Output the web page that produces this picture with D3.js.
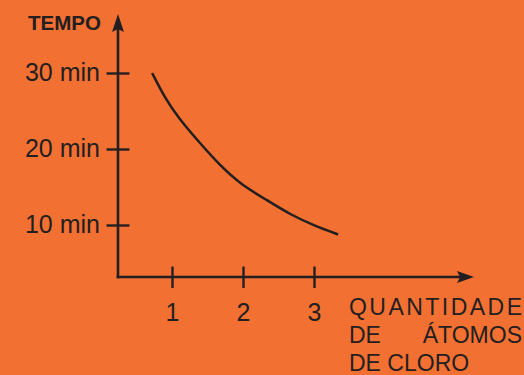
<!DOCTYPE html>
<html>
<head>
<meta charset="utf-8">
<script src="https://cdn.jsdelivr.net/npm/d3@7"></script>
<style>
html,body{margin:0;padding:0;background:#F37033;}
svg{display:block;}
text{font-family:"Liberation Sans",Arial,Helvetica,sans-serif;fill:#231F20;}
</style>
</head>
<body>
<svg id="chart" width="524" height="375"></svg>
<script>
// Data
const xTicks = [1, 2, 3];
const yTicks = [10, 20, 30];
const yTickLabels = ["10 min", "20 min", "30 min"];
const curveX = [0.72, 0.90, 1.09, 1.39, 1.68, 1.96, 2.35, 2.66, 3.01, 3.34];
const curveY = [30.0, 26.7, 24.1, 20.8, 17.8, 15.4, 13.2, 11.4, 9.9, 8.75];
const yTitle = "TEMPO";
const xTitleLines = ["QUANTIDADE", "DE", "ÁTOMOS", "DE CLORO"];

const ink = "#231F20";
const svg = d3.select("#chart");
svg.append("rect").attr("width", 524).attr("height", 375).attr("fill", "#F37033");

const x = d3.scaleLinear().domain([0, 3]).range([101, 314]);
const y = d3.scaleLinear().domain([10, 30]).range([225, 73]);

const axisX0 = 118;   // y-axis position (px)
const axisY0 = 277;   // x-axis position (px)

// Axis lines
svg.append("line").attr("x1", axisX0).attr("x2", axisX0).attr("y1", 28).attr("y2", axisY0 + 1.3)
  .attr("stroke", ink).attr("stroke-width", 2.6);
svg.append("line").attr("x1", axisX0 - 1.3).attr("x2", 460).attr("y1", axisY0).attr("y2", axisY0)
  .attr("stroke", ink).attr("stroke-width", 2.6);
// Arrow heads
svg.append("path").attr("d", `M${axisX0},14 L${axisX0 + 6},32 L${axisX0},29 L${axisX0 - 6},32 Z`).attr("fill", ink);
svg.append("path").attr("d", `M474,${axisY0} L457,${axisY0 - 6} L460,${axisY0} L457,${axisY0 + 6} Z`).attr("fill", ink);

// Y axis ticks and labels
const yAxis = d3.axisLeft(y).tickValues(yTicks).tickFormat((d, i) => yTickLabels[i]).tickSize(11.5).tickPadding(0);
const gy = svg.append("g").attr("transform", `translate(${axisX0},0)`).call(yAxis);
gy.select(".domain").remove();
gy.selectAll(".tick line").attr("x1", -11.5).attr("x2", 11.5).attr("stroke", ink).attr("stroke-width", 2.4);
gy.selectAll(".tick text").attr("x", -18).attr("dy", "0.3em")
  .style("font-size", "25px").style("font-family", "'Liberation Sans', Arial, sans-serif").attr("fill", ink);

// X axis ticks and labels
const xAxis = d3.axisBottom(x).tickValues(xTicks).tickFormat(d3.format("d")).tickSize(11).tickPadding(0);
const gx = svg.append("g").attr("transform", `translate(0,${axisY0})`).call(xAxis);
gx.select(".domain").remove();
gx.selectAll(".tick line").attr("y1", -10.5).attr("y2", 11).attr("stroke", ink).attr("stroke-width", 2.4);
gx.selectAll(".tick text").attr("y", 44).attr("dy", 0)
  .style("font-size", "25px").style("font-family", "'Liberation Sans', Arial, sans-serif").attr("fill", ink);

// Titles
svg.append("text").attr("x", 101).attr("y", 30).attr("text-anchor", "end")
  .style("font-size", "20.5px").style("font-weight", "bold").text(yTitle);

svg.append("text").attr("x", 349).attr("y", 315).attr("textLength", 173).attr("lengthAdjust", "spacing")
  .style("font-size", "23px").text(xTitleLines[0]);
svg.append("text").attr("x", 349).attr("y", 343).style("font-size", "23px").text(xTitleLines[1]);
svg.append("text").attr("x", 522).attr("y", 343).attr("text-anchor", "end").style("font-size", "23px").text(xTitleLines[2]);
svg.append("text").attr("x", 349).attr("y", 371).style("font-size", "23px").text(xTitleLines[3]);

// Curve
const pts = curveX.map((d, i) => [d, curveY[i]]);
const line = d3.line().x(d => x(d[0])).y(d => y(d[1])).curve(d3.curveBasis);
svg.append("path").datum(pts).attr("d", line).attr("fill", "none")
  .attr("stroke", ink).attr("stroke-width", 2.5).attr("stroke-linecap", "butt");
</script>
</body>
</html>
